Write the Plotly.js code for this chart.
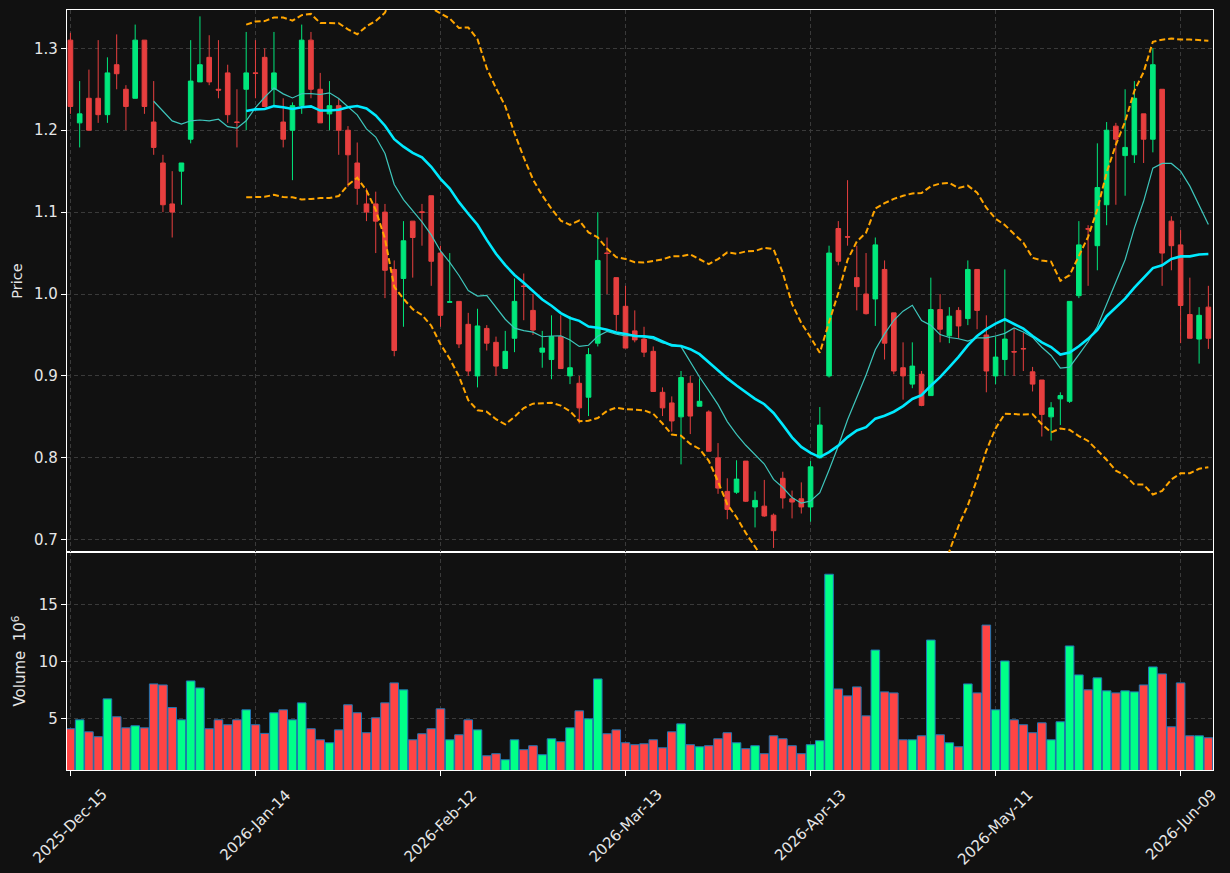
<!DOCTYPE html>
<html>
<head>
<meta charset="utf-8">
<script src="https://cdn.plot.ly/plotly-3.0.1.min.js"></script>
<style>
  html, body { margin: 0; padding: 0; background: #111111; }
  #chart { width: 1230px; height: 873px; }
</style>
</head>
<body>
<div id="chart"></div>
<script>
// ---- data ----
const openP = [1.310,1.209,1.239,1.239,1.219,1.280,1.250,1.239,1.310,1.210,
  1.160,1.110,1.150,1.189,1.259,1.289,1.250,1.270,1.210,1.250,
  1.270,1.289,1.250,1.210,1.200,1.230,1.310,1.250,1.220,1.230,
  1.200,1.160,1.110,1.110,1.100,1.030,1.019,1.089,1.1004,1.120,
  1.050,0.990,0.991,0.963,0.900,0.958,0.941,0.909,0.946,1.0097,
  0.980,0.929,0.920,0.948,0.900,0.891,0.874,0.940,1.050,1.020,
  0.985,0.955,0.945,0.930,0.880,0.867,0.850,0.891,0.863,0.856,
  0.800,0.759,0.758,0.796,0.740,0.741,0.730,0.775,0.750,0.750,
  0.740,0.800,0.900,1.080,1.070,1.020,1.000,0.994,1.030,0.977,
  0.910,0.890,0.902,0.876,0.981,0.949,0.980,0.970,1.030,0.950,
  0.900,0.920,0.9297,0.9335,0.905,0.895,0.850,0.872,0.869,0.998,
  1.0797,1.059,1.109,1.205,1.169,1.170,1.220,1.189,1.250,1.089,
  1.060,0.975,0.945,0.984];
const highP = [1.319,1.260,1.274,1.310,1.289,1.317,1.255,1.329,1.310,1.260,
  1.170,1.150,1.160,1.310,1.339,1.316,1.310,1.280,1.250,1.320,
  1.310,1.300,1.320,1.239,1.234,1.329,1.320,1.270,1.260,1.239,
  1.205,1.185,1.129,1.125,1.110,1.041,1.089,1.089,1.110,1.120,
  1.059,1.050,0.991,0.977,0.982,0.962,0.948,0.955,1.019,1.025,
  1.000,0.955,0.974,0.974,0.973,0.900,0.934,1.100,1.069,1.020,
  1.010,0.980,0.960,0.936,0.886,0.875,0.906,0.900,0.897,0.858,
  0.818,0.775,0.797,0.796,0.759,0.773,0.732,0.783,0.760,0.770,
  0.796,0.862,1.059,1.089,1.139,1.059,1.050,1.069,1.041,0.977,
  0.941,0.941,0.906,1.020,1.000,0.984,0.984,1.041,1.030,0.974,
  0.948,1.030,0.958,0.9525,0.911,0.895,0.868,0.880,0.991,1.089,
  1.084,1.184,1.210,1.209,1.250,1.260,1.220,1.300,1.250,1.095,
  1.078,1.020,0.984,1.010];
const lowP = [1.220,1.179,1.200,1.209,1.209,1.250,1.200,1.239,1.220,1.170,
  1.100,1.069,1.109,1.184,1.259,1.255,1.239,1.209,1.179,1.200,
  1.239,1.229,1.229,1.179,1.139,1.220,1.239,1.209,1.200,1.170,
  1.131,1.109,1.089,1.050,0.995,0.924,0.960,1.020,1.059,1.010,
  0.960,0.990,0.934,0.900,0.886,0.931,0.900,0.909,0.929,0.968,
  0.950,0.910,0.896,0.909,0.890,0.842,0.851,0.936,1.000,0.955,
  0.934,0.941,0.923,0.881,0.851,0.832,0.792,0.829,0.863,0.808,
  0.756,0.725,0.756,0.746,0.715,0.728,0.690,0.738,0.726,0.732,
  0.722,0.800,0.898,1.035,1.059,0.980,0.975,0.961,0.920,0.902,
  0.871,0.885,0.863,0.876,0.941,0.940,0.946,0.962,0.957,0.880,
  0.890,0.900,0.900,0.906,0.881,0.826,0.821,0.840,0.867,0.995,
  1.010,1.029,1.084,1.109,1.120,1.160,1.160,1.173,1.010,1.029,
  0.940,0.946,0.915,0.933];
const closeP = [1.229,1.220,1.200,1.219,1.270,1.269,1.229,1.310,1.229,1.179,
  1.109,1.100,1.160,1.260,1.280,1.259,1.249,1.219,1.2096,1.270,
  1.2695,1.229,1.270,1.189,1.230,1.310,1.250,1.209,1.230,1.200,
  1.170,1.129,1.100,1.089,1.029,0.931,1.065,1.069,1.0996,1.040,
  0.974,0.9905,0.939,0.906,0.961,0.940,0.912,0.930,0.991,1.0093,
  0.956,0.934,0.948,0.909,0.910,0.861,0.926,1.041,1.0496,0.975,
  0.934,0.944,0.929,0.881,0.861,0.845,0.898,0.851,0.869,0.808,
  0.763,0.737,0.774,0.747,0.748,0.729,0.711,0.751,0.746,0.740,
  0.789,0.840,1.050,1.040,1.0695,1.009,0.976,1.060,0.940,0.906,
  0.900,0.912,0.864,0.981,0.957,0.973,0.961,1.030,0.980,0.906,
  0.923,0.945,0.9292,0.933,0.890,0.853,0.861,0.876,0.991,1.060,
  1.0793,1.130,1.200,1.189,1.179,1.239,1.189,1.280,1.050,1.059,
  0.986,0.946,0.974,0.946];
// volume in millions of shares
const volumeM = [4.10,4.88,3.83,3.40,6.72,5.15,4.18,4.36,4.18,8.03,
  7.94,5.96,4.88,8.29,7.68,4.10,4.88,4.45,4.88,5.76,
  4.45,3.69,5.50,5.76,4.88,6.37,4.10,3.13,2.87,4.00,
  6.20,5.50,3.75,5.06,6.37,8.12,7.51,3.13,3.66,4.10,
  5.85,3.13,3.57,4.88,4.00,1.73,1.91,1.38,3.13,2.26,
  2.61,1.82,3.22,2.96,4.18,5.67,4.97,8.47,3.66,4.00,
  2.87,2.70,2.78,3.13,2.43,3.83,4.53,2.70,2.52,2.61,
  3.22,3.75,2.87,2.35,2.61,1.91,3.48,3.22,2.61,1.91,
  2.70,3.05,17.65,7.59,6.98,7.77,5.23,11.00,7.33,7.24,
  3.13,3.13,3.48,11.88,3.57,2.87,2.52,8.03,7.24,13.19,
  5.76,10.04,4.88,4.45,3.75,4.62,3.13,4.71,11.36,8.82,
  7.51,8.56,7.42,7.24,7.42,7.33,7.94,9.52,8.91,4.27,
  8.12,3.48,3.48,3.31];
const tickIndex = [0, 20, 40, 60, 80, 100, 120];
const tickLabels = ['2025-Dec-15','2026-Jan-14','2026-Feb-12','2026-Mar-13','2026-Apr-13','2026-May-11','2026-Jun-09'];
const priceTicks = [0.7, 0.8, 0.9, 1.0, 1.1, 1.2, 1.3];
const volumeTicks = [5, 10, 15];

// ---- derived indicators (moving averages & Bollinger bands of close) ----
function rollingMean(arr, n) {
  return arr.map((v, i) => {
    if (i < n - 1) return null;
    let s = 0;
    for (let k = i - n + 1; k <= i; k++) s += arr[k];
    return s / n;
  });
}
function rollingStd(arr, n) {
  const m = rollingMean(arr, n);
  return arr.map((v, i) => {
    if (i < n - 1) return null;
    let s = 0;
    for (let k = i - n + 1; k <= i; k++) s += (arr[k] - m[i]) ** 2;
    return Math.sqrt(s / n);
  });
}
const idx = closeP.map((_, i) => i);
const ma10 = rollingMean(closeP, 10);
const ma20 = rollingMean(closeP, 20);
const sd20 = rollingStd(closeP, 20);
const bbUp = ma20.map((m, i) => m === null ? null : m + 2 * sd20[i]);
const bbLo = ma20.map((m, i) => m === null ? null : m - 2 * sd20[i]);

const UP_C = '#00e77c', DN_C = '#e73f3f';
const UP_V = '#00ff88', DN_V = '#ff4444';
const volColors = closeP.map((c, i) => c >= openP[i] ? UP_V : DN_V);

const traces = [
  {
    type: 'candlestick', x: idx, open: openP, high: highP, low: lowP, close: closeP,
    xaxis: 'x2', yaxis: 'y',
    increasing: { line: { color: UP_C, width: 1 }, fillcolor: UP_C },
    decreasing: { line: { color: DN_C, width: 1 }, fillcolor: DN_C },
    whiskerwidth: 0, hoverinfo: 'skip'
  },
  { type: 'scatter', mode: 'lines', x: idx, y: ma10, xaxis: 'x2', yaxis: 'y',
    line: { color: '#3ec6bc', width: 1.2 }, hoverinfo: 'skip' },
  { type: 'scatter', mode: 'lines', x: idx, y: ma20, xaxis: 'x2', yaxis: 'y',
    line: { color: '#00eaff', width: 2.6 }, hoverinfo: 'skip' },
  { type: 'scatter', mode: 'lines', x: idx, y: bbUp, xaxis: 'x2', yaxis: 'y',
    line: { color: '#ffa500', width: 2, dash: '6px,3px' }, hoverinfo: 'skip' },
  { type: 'scatter', mode: 'lines', x: idx, y: bbLo, xaxis: 'x2', yaxis: 'y',
    line: { color: '#ffa500', width: 2, dash: '6px,3px' }, hoverinfo: 'skip' },
  { type: 'bar', x: idx, y: volumeM, xaxis: 'x', yaxis: 'y2', width: 0.93,
    marker: { color: volColors, line: { color: '#1f77b4', width: 1 } }, hoverinfo: 'skip' }
];

const FONT = 'DejaVu Sans, sans-serif';
const TXT = '#e6e6e6';
const gridCommon = {
  showgrid: true, gridcolor: '#3a3a3a', gridwidth: 1, griddash: '4px,3px',
  zeroline: false, showline: true, linecolor: '#ffffff', linewidth: 1.2, mirror: true,
  ticks: 'outside', tickcolor: '#ffffff', ticklen: 5, tickwidth: 1,
  tickfont: { family: FONT, size: 15, color: TXT }
};
const volDomTop = 218 / 760;

// date labels below the volume panel, centred on their ticks (rotated 45°)
const dateAnnotations = tickIndex.map((t, k) => ({
  x: t, xref: 'x', y: -13 / 760, yref: 'paper',
  text: tickLabels[k], showarrow: false, textangle: -45,
  xanchor: 'center', yanchor: 'top',
  font: { family: FONT, size: 15, color: TXT }
}));

const layout = {
  width: 1230, height: 873,
  paper_bgcolor: '#111111', plot_bgcolor: '#111111',
  margin: { l: 67, r: 17, t: 10, b: 103 },
  showlegend: false, hovermode: false,
  boxgap: 0.286, boxgroupgap: 0.3,
  annotations: dateAnnotations,
  xaxis: Object.assign({}, gridCommon, {
    domain: [0, 1], anchor: 'y2', range: [-0.37, 123.5],
    tickmode: 'array', tickvals: tickIndex, showticklabels: false,
    rangeslider: { visible: false }
  }),
  xaxis2: Object.assign({}, gridCommon, {
    domain: [0, 1], anchor: 'y', matches: 'x', range: [-0.37, 123.5],
    tickmode: 'array', tickvals: tickIndex, showticklabels: false, ticks: '',
    rangeslider: { visible: false }
  }),
  yaxis: Object.assign({}, gridCommon, {
    domain: [volDomTop, 1], anchor: 'x2', range: [0.685, 1.3468],
    tickmode: 'array', tickvals: priceTicks, tickformat: '.1f',
    title: { text: 'Price', font: { family: FONT, size: 14.5, color: TXT }, standoff: 7 }
  }),
  yaxis2: Object.assign({}, gridCommon, {
    domain: [0, volDomTop], anchor: 'x', range: [0.48, 19.6],
    tickmode: 'array', tickvals: volumeTicks,
    title: { text: 'Volume  10<sup>6</sup>', font: { family: FONT, size: 15, color: TXT }, standoff: 9 }
  })
};

Plotly.newPlot('chart', traces, layout, { staticPlot: true, displayModeBar: false });
</script>
</body>
</html>
